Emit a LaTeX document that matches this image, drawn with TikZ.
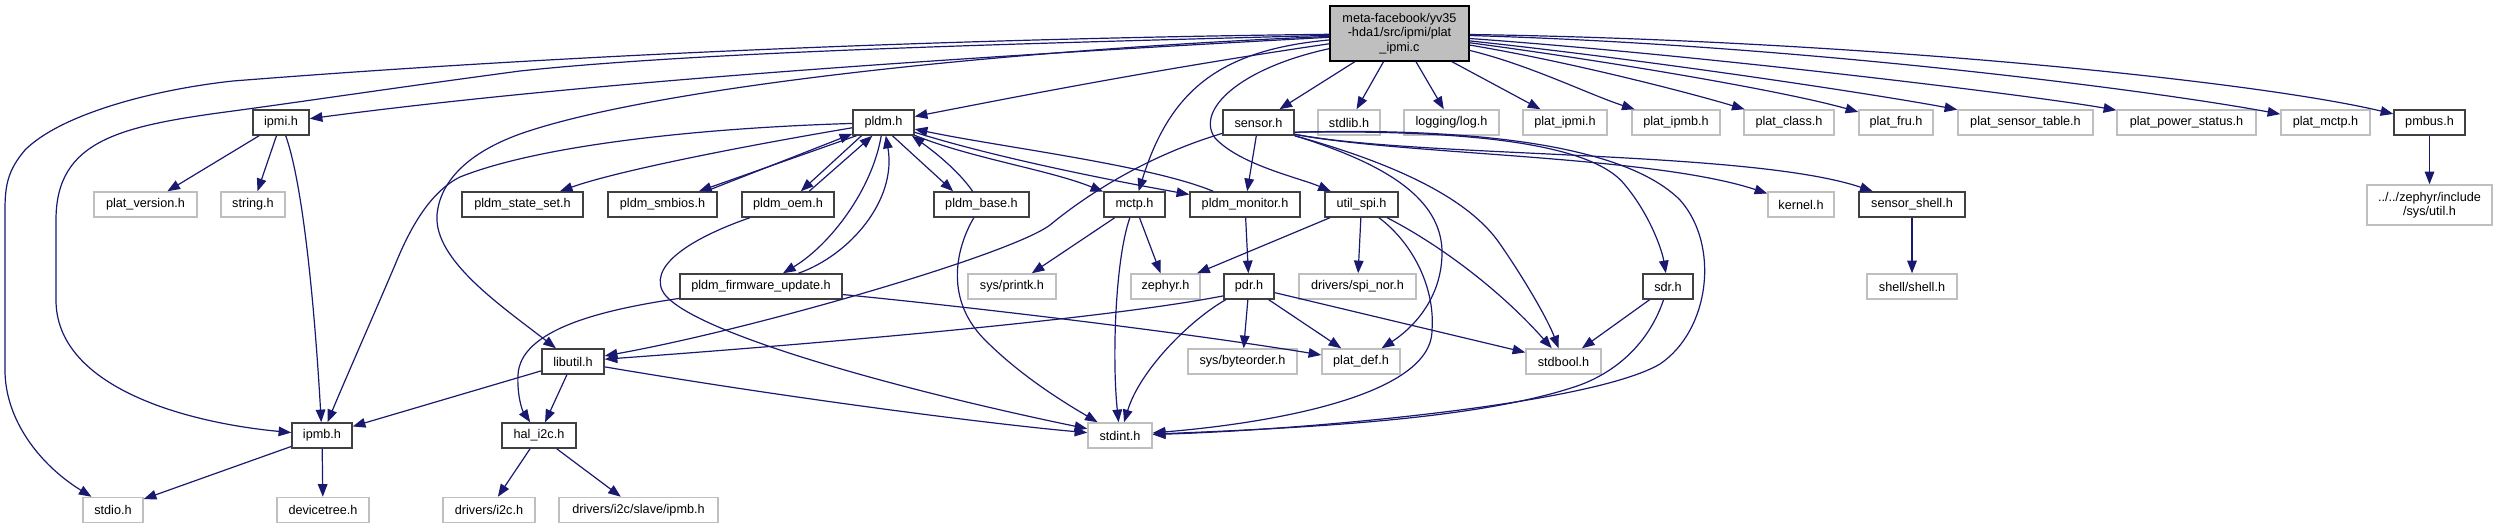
\documentclass[tikz,border=0pt]{standalone}
\usepackage{fontspec}
\setmainfont{Liberation Sans}
\usetikzlibrary{arrows.meta}
\definecolor{edgec}{HTML}{191970}
\definecolor{docc}{HTML}{404040}
\definecolor{udc}{HTML}{BFBFBF}
\definecolor{mainfill}{HTML}{BFBFBF}
\newcommand\nodefont{\fontsize{9.5pt}{10.9pt}\selectfont}
\begin{document}
\begin{tikzpicture}[x=0.75pt,y=-0.75pt,
  nd/.style={draw=docc,line width=1.1pt,fill=white,inner sep=0pt,minimum height=18.75pt,font=\nodefont,text=black},
  ud/.style={nd,draw=udc},
  bw/.style={minimum width={#1*0.75pt}},
  e/.style={draw=edgec,line width=0.9pt,-{Triangle[length=9.5pt,width=7.2pt]}}]
\useasboundingbox (0,0) rectangle (2497,529);
% row 0
\node[nd,fill=mainfill,draw=black,bw=139,minimum height=41.25pt,align=center] (main) at (1399.5,33.5) {meta-facebook/yv35\\-hda1/src/ipmi/plat\\\_ipmi.c};
% row B
\node[nd,bw=56] (ipmi) at (281,122.5) {ipmi.h};
\node[nd,bw=61] (pldm) at (883.5,122.5) {pldm.h};
\node[nd,bw=71] (sensor) at (1258.5,122.5) {sensor.h};
\node[ud,bw=62] (stdlib) at (1349,122.5) {stdlib.h};
\node[ud,bw=95] (log) at (1451.5,122.5) {logging/log.h};
\node[ud,bw=84] (platipmi) at (1565,122.5) {plat\_ipmi.h};
\node[ud,bw=88] (platipmb) at (1676,122.5) {plat\_ipmb.h};
\node[ud,bw=90] (platclass) at (1789,122.5) {plat\_class.h};
\node[ud,bw=74] (platfru) at (1896,122.5) {plat\_fru.h};
\node[ud,bw=135] (platst) at (2025.5,122.5) {plat\_sensor\_table.h};
\node[ud,bw=139] (platps) at (2186.5,122.5) {plat\_power\_status.h};
\node[ud,bw=89] (platmctp) at (2325.5,122.5) {plat\_mctp.h};
\node[nd,bw=71] (pmbus) at (2429.5,122.5) {pmbus.h};
% row C
\node[ud,bw=103] (platver) at (145.5,204.5) {plat\_version.h};
\node[ud,bw=64] (string) at (253,204.5) {string.h};
\node[nd,bw=121] (stateset) at (522.5,204.5) {pldm\_state\_set.h};
\node[nd,bw=109] (smbios) at (662.5,204.5) {pldm\_smbios.h};
\node[nd,bw=92] (oem) at (788,204.5) {pldm\_oem.h};
\node[nd,bw=95] (base) at (981.5,204.5) {pldm\_base.h};
\node[nd,bw=61] (mctp) at (1134.5,204.5) {mctp.h};
\node[nd,bw=110] (monitor) at (1245,204.5) {pldm\_monitor.h};
\node[nd,bw=73] (utilspi) at (1361.5,204.5) {util\_spi.h};
\node[ud,bw=66] (kernel) at (1801,204.5) {kernel.h};
\node[nd,bw=106] (sshell) at (1912,204.5) {sensor\_shell.h};
\node[ud,bw=125,minimum height=30pt,align=center] (sysutil) at (2429.5,205) {../../zephyr/include\\/sys/util.h};
% row D
\node[nd,bw=162] (fw) at (761,286.5) {pldm\_firmware\_update.h};
\node[ud,bw=88] (printk) at (1012,286.5) {sys/printk.h};
\node[ud,bw=69] (zephyr) at (1165.5,286.5) {zephyr.h};
\node[nd,bw=50] (pdr) at (1249,286.5) {pdr.h};
\node[ud,bw=117] (spinor) at (1357.5,286.5) {drivers/spi\_nor.h};
\node[nd,bw=50] (sdr) at (1668,286.5) {sdr.h};
\node[ud,bw=90] (shell) at (1912,286.5) {shell/shell.h};
% row E
\node[nd,bw=62] (libutil) at (573,361.5) {libutil.h};
\node[ud,bw=109] (byteorder) at (1242.5,361.5) {sys/byteorder.h};
\node[ud,bw=78] (platdef) at (1361,361.5) {plat\_def.h};
\node[ud,bw=75] (stdbool) at (1563.5,361.5) {stdbool.h};
% row F
\node[nd,bw=60] (ipmb) at (322,435.5) {ipmb.h};
\node[nd,bw=74] (hali2c) at (539,435.5) {hal\_i2c.h};
\node[ud,bw=64] (stdint) at (1120,435.5) {stdint.h};
% row G
\node[ud,bw=60] (stdio) at (113,510) {stdio.h};
\node[ud,bw=92] (devtree) at (323,510) {devicetree.h};
\node[ud,bw=92] (i2c) at (489,510) {drivers/i2c.h};
\node[ud,bw=159] (slave) at (638.5,510) {drivers/i2c/slave/ipmb.h};

% ---- edges from main
\draw[e] (main) .. controls (1000,55) and (600,80) .. (ipmi);
\draw[e] (main) .. controls (1150,70) and (1000,100) .. (pldm);
\draw[e] (main) .. controls (1000,38) and (600,52) .. (233,81) .. controls (150,90) and (60,115) .. (25,150) .. controls (8,170) and (5,185) .. (5,210) -- (5,370) .. controls (5,420) and (40,465) .. (stdio);
\draw[e] (main) .. controls (1000,44) and (700,52) .. (520,71) .. controls (400,87) and (300,102) .. (233,111) .. controls (120,126) and (56,140) .. (56,220) -- (56,300) .. controls (56,385) and (180,422) .. (ipmb);
\draw[e] (main) .. controls (1000,50) and (650,88) .. (520,134) .. controls (470,152) and (440,180) .. (437,215) .. controls (434,260) and (500,305) .. (libutil);
\draw[e] (main) .. controls (1220,50) and (1170,90) .. (mctp);
\draw[e] (main) .. controls (1240,68) and (1195,110) .. (1215,138) .. controls (1240,165) and (1300,178) .. (utilspi);
\draw[e] (main) -- (sensor);
\draw[e] (main) -- (stdlib);
\draw[e] (main) -- (log);
\draw[e] (main) -- (platipmi);
\draw[e] (main) .. controls (1530,65) and (1590,95) .. (platipmb);
\draw[e] (main) .. controls (1560,60) and (1680,90) .. (platclass);
\draw[e] (main) .. controls (1600,60) and (1780,90) .. (platfru);
\draw[e] (main) .. controls (1650,60) and (1880,95) .. (platst);
\draw[e] (main) .. controls (1700,55) and (2030,95) .. (platps);
\draw[e] (main) .. controls (1800,45) and (2150,90) .. (platmctp);
\draw[e] (main) .. controls (1850,40) and (2250,80) .. (pmbus);

% ---- pldm.h
\draw[e] (pldm) .. controls (700,128) and (540,145) .. (460,177) .. controls (430,192) and (410,228) .. (395,265) .. controls (375,312) and (345,380) .. (ipmb);
\draw[e] (pldm) .. controls (750,145) and (620,170) .. (stateset);
\draw[e] (pldm.206) -- (smbios.20);
\draw[e] (smbios.17) -- (pldm.200);
\draw[e] (pldm.211) -- (oem.46);
\draw[e] (oem.32) -- (pldm.230);
\draw[e] (pldm) .. controls (872,190) and (830,245) .. (fw);
\draw[e] (fw) .. controls (850,255) and (897,200) .. (pldm);
\draw[e] (pldm.304) -- (base.155);
\draw[e] (base.124) .. controls (958,170) and (932,150) .. (pldm.335);
\draw[e] (pldm) .. controls (970,158) and (1050,170) .. (mctp);
\draw[e] (pldm) .. controls (1000,159) and (1120,182) .. (monitor);
\draw[e] (monitor) .. controls (1150,165) and (1000,147) .. (pldm);

% ---- pldm sub headers
\draw[e] (oem) .. controls (700,235) and (650,262) .. (662,290) .. controls (680,330) and (900,390) .. (stdint);
\draw[e] (base) .. controls (955,250) and (945,300) .. (985,340) .. controls (1020,375) and (1060,400) .. (stdint);
\draw[e] (fw) .. controls (600,310) and (520,330) .. (518,375) .. controls (517,395) and (522,410) .. (hali2c);
\draw[e] (fw) .. controls (1000,310) and (1200,335) .. (platdef);

% ---- libutil, hal_i2c, ipmb, ipmi
\draw[e] (libutil) -- (ipmb);
\draw[e] (libutil) -- (hali2c);
\draw[e] (libutil) .. controls (800,400) and (1000,425) .. (stdint);
\draw[e] (hali2c) -- (i2c);
\draw[e] (hali2c) -- (slave);
\draw[e] (ipmb) -- (stdio);
\draw[e] (ipmb) -- (devtree);
\draw[e] (ipmi) -- (platver);
\draw[e] (ipmi) -- (string);
\draw[e] (ipmi) .. controls (305,190) and (316,330) .. (ipmb);

% ---- sensor.h
\draw[e] (sensor) .. controls (1150,155) and (1090,192) .. (1050,225) .. controls (1010,255) and (750,330) .. (libutil);
\draw[e] (sensor) -- (monitor);
\draw[e] (sensor.south east) .. controls (1390,165) and (1440,200) .. (1442,250) .. controls (1443,300) and (1410,330) .. (platdef);
\draw[e] (sensor.south east) .. controls (1400,165) and (1470,200) .. (1500,244) .. controls (1525,280) and (1548,320) .. (stdbool);
\draw[e] (sensor.345) .. controls (1450,128) and (1620,140) .. (1680,200) .. controls (1720,245) and (1710,330) .. (1660,364) .. controls (1590,405) and (1300,430) .. (stdint);
\draw[e] (sensor.345) .. controls (1450,130) and (1590,140) .. (1625,185) .. controls (1650,215) and (1662,250) .. (sdr);
\draw[e] (sensor.342) .. controls (1400,155) and (1650,155) .. (kernel);
\draw[e] (sensor.342) .. controls (1420,158) and (1750,150) .. (sshell);

% ---- mctp, monitor, util_spi
\draw[e] (mctp) -- (printk);
\draw[e] (mctp) -- (zephyr);
\draw[e] (mctp) .. controls (1115,260) and (1112,360) .. (stdint);
\draw[e] (monitor) -- (pdr);
\draw[e] (utilspi) -- (zephyr);
\draw[e] (utilspi) -- (spinor);
\draw[e] (utilspi) .. controls (1415,245) and (1435,290) .. (1432,330) .. controls (1432,400) and (1250,425) .. (stdint);
\draw[e] (utilspi) .. controls (1440,245) and (1500,290) .. (stdbool);

% ---- pdr, sdr
\draw[e] (pdr.200) .. controls (1100,320) and (800,345) .. (libutil);
\draw[e] (pdr) -- (byteorder);
\draw[e] (pdr) -- (platdef);
\draw[e] (pdr) -- (stdbool);
\draw[e] (pdr) .. controls (1190,320) and (1140,370) .. (stdint);
\draw[e] (sdr) -- (stdbool);
\draw[e] (sdr) .. controls (1650,340) and (1620,370) .. (1580,385) .. controls (1480,420) and (1300,428) .. (stdint);

% ---- others
\draw[e] (sshell) -- (shell);
\draw[e] (pmbus) -- (sysutil);
\end{tikzpicture}
\end{document}
